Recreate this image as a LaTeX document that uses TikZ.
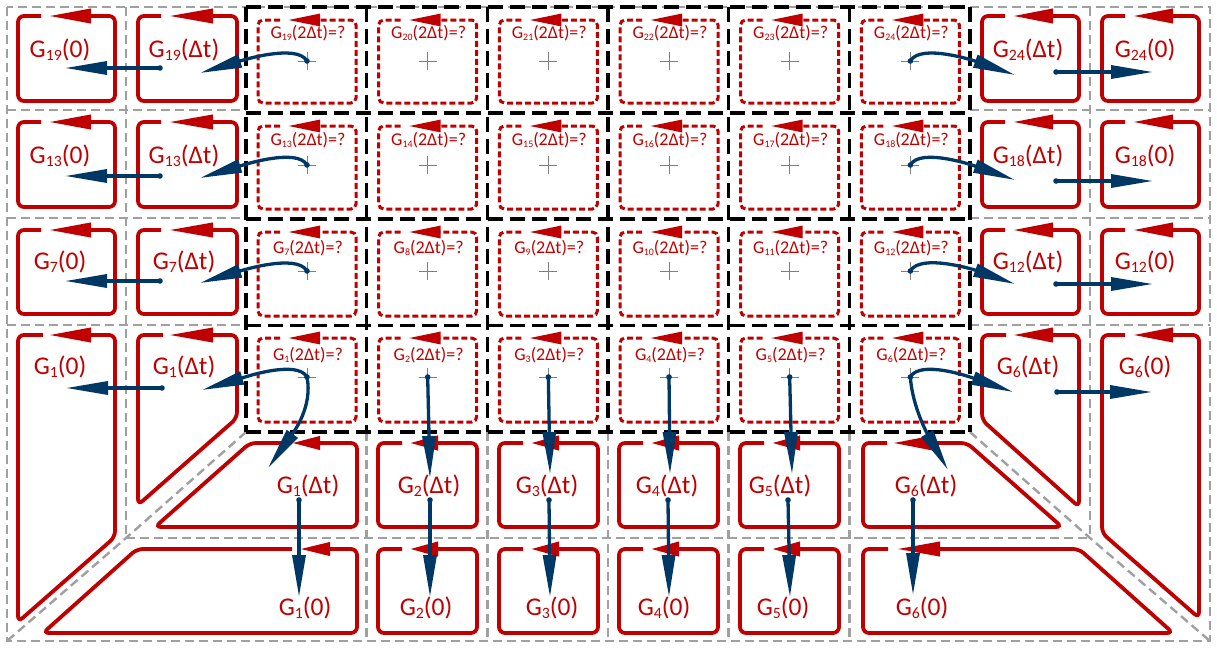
\documentclass[tikz,border=0pt]{standalone}
\usepackage{fontspec}
\setmainfont{Carlito}
\usetikzlibrary{arrows.meta}
\definecolor{redc}{HTML}{C00000}
\definecolor{bluec}{HTML}{003865}
\definecolor{grayc}{HTML}{A0A0A0}
\definecolor{xhc}{HTML}{7F7F7F}
\newcommand{\bsb}[1]{\raisebox{-0.12em}{\scalebox{0.62}{#1}}}
\newcommand{\ssb}[1]{\raisebox{-0.12em}{\scalebox{0.55}{#1}}}
\newcommand{\redbx}[6]{\draw[rbox,-{Triangle[length=#6pt,width=14pt]}] (#1+#5-8,#2) -- (#1,#2) -- (#1,#4) -- (#3,#4) -- (#3,#2) -- (#1+#5,#2);}
\newcommand{\dashbx}[4]{\draw[rdash,-{Triangle[length=32pt,width=12pt]}] (#1+22,#2) -- (#1,#2) -- (#1,#4) -- (#3,#4) -- (#3,#2) -- (#1+30,#2);}
\begin{document}
\begin{tikzpicture}[x=1pt,y=-1pt,
  gridg/.style={draw=grayc, line width=2.4pt, dash pattern=on 9pt off 5pt},
  gridk/.style={draw=black, line width=3.1pt, dash pattern=on 15pt off 7pt},
  rbox/.style={draw=redc, line width=3.8pt, rounded corners=6pt},
  rdash/.style={draw=redc, line width=3pt, rounded corners=5pt, dash pattern=on 6pt off 3pt},
  blu/.style={draw=bluec, line width=3.3pt, -{Triangle[length=42pt,width=13pt]}},
  lab/.style={text=redc, font=\fontsize{25.5}{30}\selectfont, inner sep=0pt},
  slab/.style={text=redc, font=\fontsize{18}{22}\selectfont, inner sep=0pt},
  xh/.style={draw=xhc, line width=1pt},
  dotb/.style={fill=bluec}
]
\useasboundingbox (0,0) rectangle (1217,648);
\fill[white] (0,0) rectangle (1217,648);
% gray grid
\draw[gridg] (7,7) rectangle (1210,641);
\draw[gridg] (126,7) -- (126,538);
\draw[gridg] (1090,7) -- (1090,538);
\foreach \y in {110,218,325}{
  \draw[gridg] (7,\y) -- (246,\y);
  \draw[gridg] (970,\y) -- (1210,\y);
}
\draw[gridg] (126,538) -- (1090,538);
\draw[gridg] (246,432) -- (126,538) -- (7,641);
\draw[gridg] (970,432) -- (1090,538) -- (1210,641);
\foreach \x in {366.67,487.33,608,728.67,849.33} \draw[gridg] (\x,432) -- (\x,641);
% black grid
\foreach \j in {0,...,6} \draw[gridk] (246+120.67*\j,7) -- (246+120.67*\j,432);
\foreach \y in {7,113,219,325.5,432} \draw[gridk] (246,\y) -- (970,\y);
% left / right column boxes rows 1-3
\foreach \T/\B in {16/101,122/207,230/314}{
  \redbx{18}{\T}{115}{\B}{31}{42}
  \redbx{138}{\T}{237}{\B}{31}{44}
  \redbx{982}{\T}{1079}{\B}{31}{40}
  \redbx{1102}{\T}{1199}{\B}{31}{40}
}
% row 4 shapes and bottom corners
\draw[rbox,-{Triangle[length=42pt,width=14pt]}] (43,335) -- (18,335) -- (18,622) -- (115,537) -- (115,335) -- (49,335);
\draw[rbox,-{Triangle[length=44pt,width=14pt]}] (163,335) -- (138,335) -- (138,505) -- (237,418) -- (237,335) -- (169,335);
\draw[rbox,-{Triangle[length=28pt,width=13pt]}] (284,443) -- (250,443) -- (155,527) -- (357,527) -- (357,443) -- (292,443);
\draw[rbox,-{Triangle[length=30pt,width=13pt]}] (292,549) -- (137,549) -- (43,633) -- (357,633) -- (357,549) -- (300,549);
\draw[rbox,-{Triangle[length=40pt,width=14pt]}] (1006,335) -- (982,335) -- (982,420) -- (1079,507) -- (1079,335) -- (1013,335);
\draw[rbox,-{Triangle[length=40pt,width=14pt]}] (1125,335) -- (1102,335) -- (1102,533) -- (1199,618) -- (1199,335) -- (1133,335);
\draw[rbox,-{Triangle[length=40pt,width=14pt]}] (887,443) -- (863,443) -- (863,527) -- (1062,527) -- (967,443) -- (893,443);
\draw[rbox,-{Triangle[length=43pt,width=14pt]}] (888,549) -- (863,549) -- (863,633) -- (1173,633) -- (1079,549) -- (897,549);
% bottom centre boxes
\foreach \L/\R in {378/477,499/598,619/718,740/839}{
  \redbx{\L}{443}{\R}{527}{32}{28}
  \redbx{\L}{549}{\R}{633}{32}{28}
}
% inner dashed boxes, crosshairs, labels
\foreach \j in {1,...,6}{
  \foreach \i/\T/\B/\cy/\ly in {1/20/103/61/33, 2/126/209/165/140, 3/232/316/271/248, 4/338/422/377/355}{
    \pgfmathtruncatemacro\n{(4-\i)*6+\j}
    \pgfmathsetmacro\L{258+120.67*(\j-1)}
    \pgfmathsetmacro\R{\L+98}
    \pgfmathsetmacro\cx{\L+49}
    \dashbx{\L}{\T}{\R}{\B}
    \coordinate (c\n) at (\cx,\cy);
    \draw[xh] (\cx-9,\cy) -- (\cx+9,\cy) (\cx,\cy-9) -- (\cx,\cy+9);
    \node[slab] (s\n) at (\cx+1,\ly) {G\ssb{\n}(2Δt)=?};
  }
}
% big labels left/right
\foreach \k/\y in {19/50,13/156,7/262,1/367}{
  \node[lab] (a\k) at (60,\y) {G\bsb{\k}(0)};
  \node[lab] (b\k) at (184,\y) {G\bsb{\k}(Δt)};
}
\foreach \k/\y in {24/50,18/156,12/262,6/367}{
  \node[lab] (y\k) at (1028,\y) {G\bsb{\k}(Δt)};
  \node[lab] (z\k) at (1145,\y) {G\bsb{\k}(0)};
}
% bottom labels
\foreach \k/\xa/\xb in {1/308/305,2/429/426,3/547/552,4/667/664,5/780/783,6/926/922}{
  \node[lab] (d\k) at (\xa,486) {G\bsb{\k}(Δt)};
  \node[lab] (e\k) at (\xb,608) {G\bsb{\k}(0)};
}
% coordinates for blue arrows
\coordinate (ls19) at (160,68);  \coordinate (le19) at (65,68);
\coordinate (ls13) at (160,176); \coordinate (le13) at (65,176);
\coordinate (ls7)  at (160,281); \coordinate (le7)  at (65,281);
\coordinate (ls1)  at (162,388); \coordinate (le1)  at (66,388);
\coordinate (lt19) at (200,73);  \coordinate (lt13) at (200,178);
\coordinate (lt7)  at (200,283); \coordinate (lt1)  at (202,390);
\coordinate (rt24) at (1015,75); \coordinate (rt18) at (1015,180);
\coordinate (rt12) at (1015,284); \coordinate (rt6) at (1013,392);
\coordinate (rs24) at (1056,72);  \coordinate (re24) at (1153,72);
\coordinate (rs18) at (1056,181); \coordinate (re18) at (1153,181);
\coordinate (rs12) at (1056,284); \coordinate (re12) at (1153,284);
\coordinate (rs6)  at (1057,392); \coordinate (re6)  at (1152,392);
\coordinate (bt1) at (268,468); \coordinate (bt2) at (430,478);
\coordinate (bt3) at (550,474); \coordinate (bt4) at (670,474);
\coordinate (bt5) at (792,474); \coordinate (bt6) at (948,470);
\coordinate (vs1) at (299,500); \coordinate (ve1) at (299,597);
\coordinate (vs2) at (430,500); \coordinate (ve2) at (430,597);
\coordinate (vs3) at (549,500); \coordinate (ve3) at (550,597);
\coordinate (vs4) at (668,500); \coordinate (ve4) at (669,597);
\coordinate (vs5) at (788,500); \coordinate (ve5) at (790,597);
\coordinate (vs6) at (913,500); \coordinate (ve6) at (913,595);
% blue arrows
\foreach \k in {19,13,7,1}{
  \draw[blu] (ls\k) -- (le\k);
  \fill[dotb] (ls\k) circle (2.8pt);
  \draw[blu] (c\k) .. controls +(-10,-18) and +(40,-12) .. (lt\k);
  \fill[dotb] (c\k) circle (2.8pt);
}
\foreach \k in {24,18,12,6}{
  \draw[blu] (rs\k) -- (re\k);
  \fill[dotb] (rs\k) circle (2.8pt);
  \draw[blu] (c\k) .. controls +(10,-18) and +(-40,-14) .. (rt\k);
  \fill[dotb] (c\k) circle (2.8pt);
}
\draw[blu] (c1) .. controls +(6,30) and +(25,-35) .. (bt1);
\draw[blu] (c6) .. controls +(2,30) and +(-20,-35) .. (bt6);
\foreach \k in {2,3,4,5}{
  \draw[blu] (c\k) -- (bt\k);
  \fill[dotb] (c\k) circle (2.8pt);
}
\foreach \k in {1,...,6}{
  \draw[blu] (vs\k) -- (ve\k);
  \fill[dotb] (vs\k) circle (2.8pt);
}
\end{tikzpicture}
\end{document}
